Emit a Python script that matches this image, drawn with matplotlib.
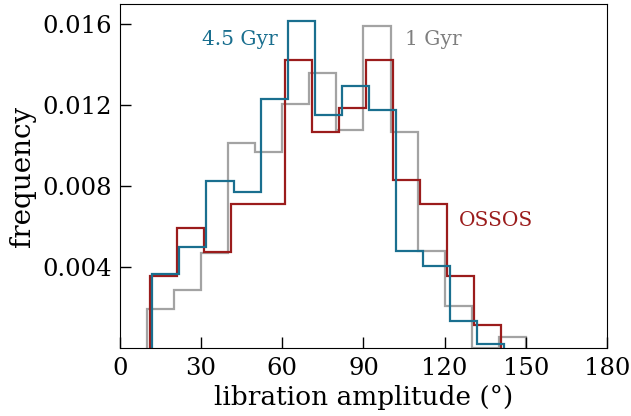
import numpy as np
import matplotlib.pyplot as plt

plt.rcParams['font.family'] = 'DejaVu Serif'

# bin edges (degrees) and normalised heights for each histogram
edges_45 = [12, 22, 32, 42, 52, 62, 72, 82, 92, 102, 112, 122, 132, 142]
freq_45 = [0.00365, 0.0050, 0.00825, 0.00772, 0.0123, 0.01615, 0.0115,
           0.01297, 0.01175, 0.00482, 0.00405, 0.00135, 0.0002]

edges_1 = [10, 20, 30, 40, 50, 60, 70, 80, 90, 100, 110, 120, 130, 140, 150]
freq_1 = [0.00193, 0.0029, 0.00468, 0.01016, 0.00971, 0.01207, 0.01358,
          0.0108, 0.0159, 0.0107, 0.0048, 0.00209, 0.0, 0.00056]

edges_ossos = [11, 21, 31, 41, 51, 61, 71, 81, 91, 101, 111, 121, 131, 141]
freq_ossos = [0.00357, 0.00593, 0.00476, 0.00713, 0.00713, 0.01425, 0.01068,
              0.01188, 0.01425, 0.0083, 0.00713, 0.00356, 0.00117]

blue = '#1a6f8f'
red = '#9b1c1c'
grey = '#a3a3a3'

fig = plt.figure(figsize=(6.31, 4.16), dpi=100)
ax = fig.add_axes([0.190, 0.163, 0.772, 0.827])

ax.stairs(freq_1, edges_1, color=grey, lw=1.6)
ax.stairs(freq_ossos, edges_ossos, color=red, lw=1.6)
ax.stairs(freq_45, edges_45, color=blue, lw=1.6)

ax.text(44.3, 0.01526, '4.5 Gyr', color=blue, fontsize=14.5, ha='center', va='center')
ax.text(115.7, 0.01526, '1 Gyr', color='#7f7f7f', fontsize=14.5, ha='center', va='center')
ax.text(139, 0.00632, 'OSSOS', color=red, fontsize=14.5, ha='center', va='center')

ax.set_xlim(0, 180)
ax.set_ylim(0, 0.017)
ax.set_xticks(np.arange(0, 181, 30))
ax.set_yticks([0.004, 0.008, 0.012, 0.016])
ax.set_yticklabels(['0.004', '0.008', '0.012', '0.016'])
ax.tick_params(direction='in', length=8, width=1, labelsize=17.5, pad=6)
ax.set_xlabel('libration amplitude (°)', fontsize=19)
ax.set_ylabel('frequency', fontsize=20)

fig.savefig('out.png', dpi=100)
